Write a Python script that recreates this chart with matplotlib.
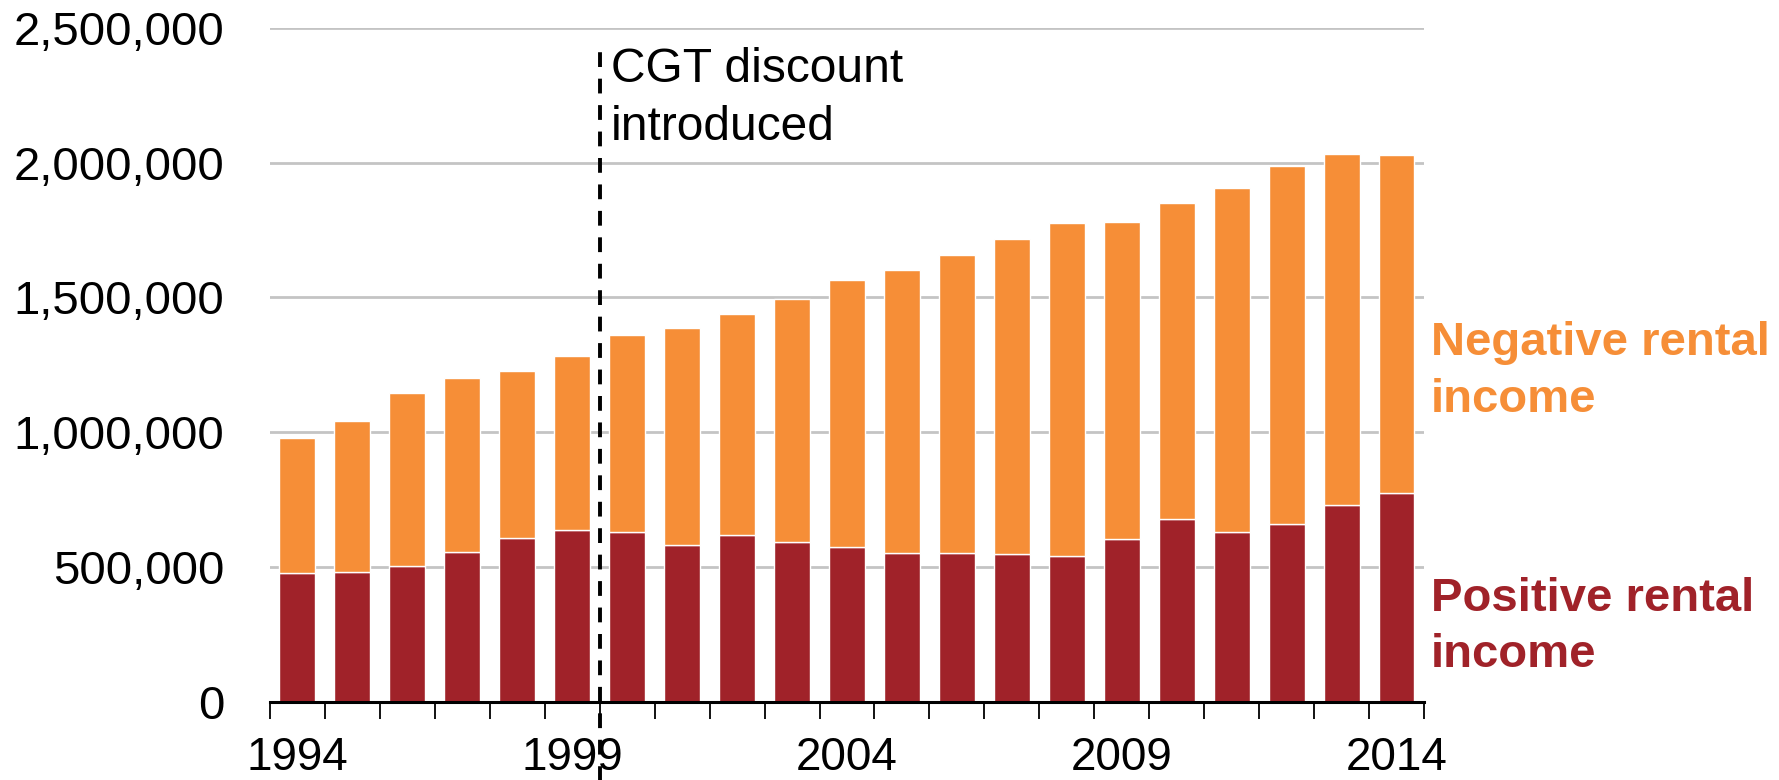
import numpy as np
import matplotlib
matplotlib.use("Agg")
import matplotlib.pyplot as plt
from matplotlib.ticker import FuncFormatter, FixedLocator

plt.rcParams['font.family'] = ['Liberation Sans', 'DejaVu Sans']

years = list(range(1994, 2015))
# number of taxpayers reporting positive / negative rental income
positive = [479000, 481000, 505000, 555000, 608000, 636000, 629000, 581000, 618000, 594000,
            574000, 553000, 552000, 547000, 541000, 605000, 677000, 629000, 661000, 731000, 776000]
negative = [499000, 561000, 641000, 648000, 618000, 646000, 733000, 806000, 821000, 901000,
            991000, 1049000, 1105000, 1169000, 1235000, 1176000, 1173000, 1279000, 1326000, 1303000, 1253000]
label_years = [1994, 1999, 2004, 2009, 2014]

orange = '#F68E37'
red = '#A02229'

fig = plt.figure(figsize=(17.79, 7.80), dpi=100)
ax = fig.add_axes([0.1517, 0.1004, 0.6488, 0.8637])

x = np.arange(len(years))
ax.bar(x, positive, width=0.65, color=red, edgecolor='white', linewidth=1, zorder=2)
ax.bar(x, negative, bottom=positive, width=0.65, color=orange, edgecolor='white', linewidth=1, zorder=2)

ax.set_xlim(-0.5, len(years) - 0.5)
ax.set_ylim(0, 2500000)
ax.set_yticks(np.arange(0, 2500001, 500000))
ax.yaxis.set_major_formatter(FuncFormatter(lambda v, p: f'{int(v):,}'))
ax.grid(axis='y', color='#C4C4C4', linewidth=2, zorder=0)
ax.set_axisbelow(True)

for s in ['left', 'right', 'top']:
    ax.spines[s].set_visible(False)
ax.spines['bottom'].set_linewidth(2.2)
ax.spines['bottom'].set_zorder(3)

# labels at category centres, ticks at category boundaries
ax.set_xticks([years.index(y) for y in label_years])
ax.set_xticklabels([str(y) for y in label_years])
ax.xaxis.set_minor_locator(FixedLocator(np.arange(-0.5, len(years), 1.0)))
ax.tick_params(axis='x', which='major', length=0, pad=25, labelsize=33)
ax.tick_params(axis='x', which='minor', length=12, width=1.3, direction='out')
ax.tick_params(axis='y', length=0, pad=33, labelsize=34)

# CGT discount marker
ax.plot([5.5, 5.5], [-300000, 2430000], color='black', lw=2.8,
        linestyle=(0, (3.8, 3)), clip_on=False, zorder=4)
ax.text(5.71, 2301000, 'CGT discount', fontsize=34.5, va='baseline')
ax.text(5.71, 2085000, 'introduced', fontsize=34.5, va='baseline')

ax.text(20.63, 1287000, 'Negative rental', fontsize=34, fontweight='bold', color=orange, va='baseline')
ax.text(20.63, 1076000, 'income', fontsize=34, fontweight='bold', color=orange, va='baseline')
ax.text(20.63, 337000, 'Positive rental', fontsize=34, fontweight='bold', color=red, va='baseline')
ax.text(20.63, 128000, 'income', fontsize=34, fontweight='bold', color=red, va='baseline')

fig.savefig('out.png', dpi=100)
